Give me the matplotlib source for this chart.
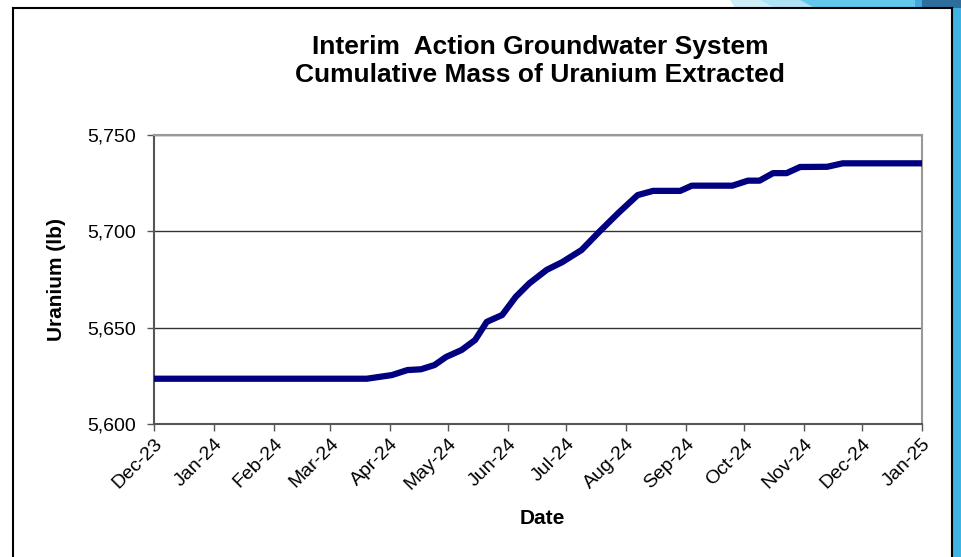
import matplotlib
matplotlib.use("Agg")
import matplotlib.pyplot as plt
import matplotlib.dates as mdates
from matplotlib.patches import Rectangle, Polygon
from matplotlib.ticker import FuncFormatter
import datetime as dt

# ---- data ----
dates = ["2023-12-01", "2024-01-01", "2024-02-01", "2024-03-01", "2024-03-20",
         "2024-04-02", "2024-04-10", "2024-04-17", "2024-04-24", "2024-04-30",
         "2024-05-08", "2024-05-15", "2024-05-21", "2024-05-29", "2024-06-05",
         "2024-06-12", "2024-06-21", "2024-06-29", "2024-07-09", "2024-07-18",
         "2024-07-28", "2024-08-07", "2024-08-15", "2024-08-29", "2024-09-04",
         "2024-09-25", "2024-10-03", "2024-10-09", "2024-10-16", "2024-10-23",
         "2024-10-30", "2024-11-13", "2024-11-21", "2025-01-01"]
uranium = [5623.5, 5623.5, 5623.5, 5623.5, 5623.5,
           5625.4, 5628.0, 5628.4, 5630.6, 5634.8,
           5638.4, 5643.6, 5653.0, 5656.6, 5666.0,
           5673.0, 5680.0, 5684.0, 5690.3, 5699.6,
           5709.5, 5718.8, 5721.0, 5721.0, 5723.7,
           5723.7, 5726.3, 5726.3, 5730.2, 5730.2,
           5733.4, 5733.5, 5735.3, 5735.3]
tick_dates = ["2023-12-01", "2024-01-01", "2024-02-01", "2024-03-01", "2024-04-01",
              "2024-05-01", "2024-06-01", "2024-07-01", "2024-08-01", "2024-09-01",
              "2024-10-01", "2024-11-01", "2024-12-01", "2025-01-01"]
y_ticks = [5600, 5650, 5700, 5750]
title = "Interim  Action Groundwater System\nCumulative Mass of Uranium Extracted"

plt.rcParams['font.family'] = ['Liberation Sans', 'DejaVu Sans']

W, H = 961, 557
fig = plt.figure(figsize=(W / 100, H / 100), dpi=100)
fig.patch.set_facecolor("white")

def fx(px):
    return px / W

def fy(py):
    return 1 - py / H

# slide decorations (top-right and right edge)
deco = [
    ([730, 800, 790, 735], "#cdeef9"),
    ([760, 830, 815, 775], "#aee2f5"),
    ([800, 915, 915, 815], "#62c9ec"),
    ([915, 925, 925, 915], "#45a8dc"),
    ([922, 961, 961, 922], "#2d6e9c"),
]
for xs, c in deco:
    poly = Polygon([(fx(xs[0]), fy(0)), (fx(xs[1]), fy(0)),
                    (fx(xs[2]), fy(8)), (fx(xs[3]), fy(8))],
                   closed=True, transform=fig.transFigure, facecolor=c,
                   edgecolor="none", zorder=0)
    fig.patches.append(poly)
fig.patches.append(Rectangle((fx(953), 0), fx(961) - fx(953), fy(8),
                             transform=fig.transFigure, facecolor="#3fb4e4",
                             edgecolor="none", zorder=0))
# chart frame
for xs, ys in [([13, 13], [557, 8]), ([13, 952], [8, 8]), ([952, 952], [557, 8])]:
    fig.add_artist(plt.Line2D([fx(v) for v in xs], [fy(v) for v in ys],
                              color="black", lw=1.5, transform=fig.transFigure))

# axes
ax_l, ax_r, ax_t, ax_b = 154, 922, 135, 424
ax = fig.add_axes([fx(ax_l), fy(ax_b), fx(ax_r) - fx(ax_l), (ax_b - ax_t) / H])
ax.set_facecolor("white")

x = [dt.datetime.strptime(d, "%Y-%m-%d") for d in dates]
ax.plot(x, uranium, color="#000080", lw=4.5, solid_joinstyle="round",
        solid_capstyle="butt", zorder=3)

xt = [dt.datetime.strptime(d, "%Y-%m-%d") for d in tick_dates]
ax.set_xlim(xt[0], xt[-1])
ax.set_ylim(y_ticks[0], y_ticks[-1])
ax.set_xticks(xt)
ax.xaxis.set_major_formatter(mdates.DateFormatter("%b-%y"))
ax.set_yticks(y_ticks)
ax.yaxis.set_major_formatter(FuncFormatter(lambda v, p: f"{v:,.0f}"))

ax.grid(axis="y", color="#333333", lw=1.0, zorder=1)
for s in ["top", "right"]:
    ax.spines[s].set_color("#999999")
    ax.spines[s].set_linewidth(1.5)
for s in ["left", "bottom"]:
    ax.spines[s].set_color("#555555")
    ax.spines[s].set_linewidth(1.5)

ax.tick_params(axis="both", direction="out", length=5, width=1, color="#555555",
               labelsize=14, labelcolor="black")
ax.tick_params(axis="y", pad=8)
ax.tick_params(axis="x", pad=3)
for lab in ax.get_xticklabels():
    lab.set_rotation(45)
    lab.set_ha("right")
    lab.set_va("top")
    lab.set_rotation_mode("anchor")

ax.set_ylabel("Uranium (lb)", fontsize=15, fontweight="bold")
ax.yaxis.set_label_coords((57 - ax_l) / (ax_r - ax_l), 0.5)
ax.set_xlabel("Date", fontsize=15, fontweight="bold")
ax.xaxis.set_label_coords(0.505, (ax_b - 518) / (ax_b - ax_t))
ax.xaxis.label.set_va("center")
ax.yaxis.label.set_va("center")

fig.text(fx(540), fy(47), title.split("\n")[0], ha="center", va="center",
         fontsize=19, fontweight="bold")
fig.text(fx(540), fy(75), title.split("\n")[1], ha="center", va="center",
         fontsize=19, fontweight="bold")

fig.savefig("out.png", dpi=100)
